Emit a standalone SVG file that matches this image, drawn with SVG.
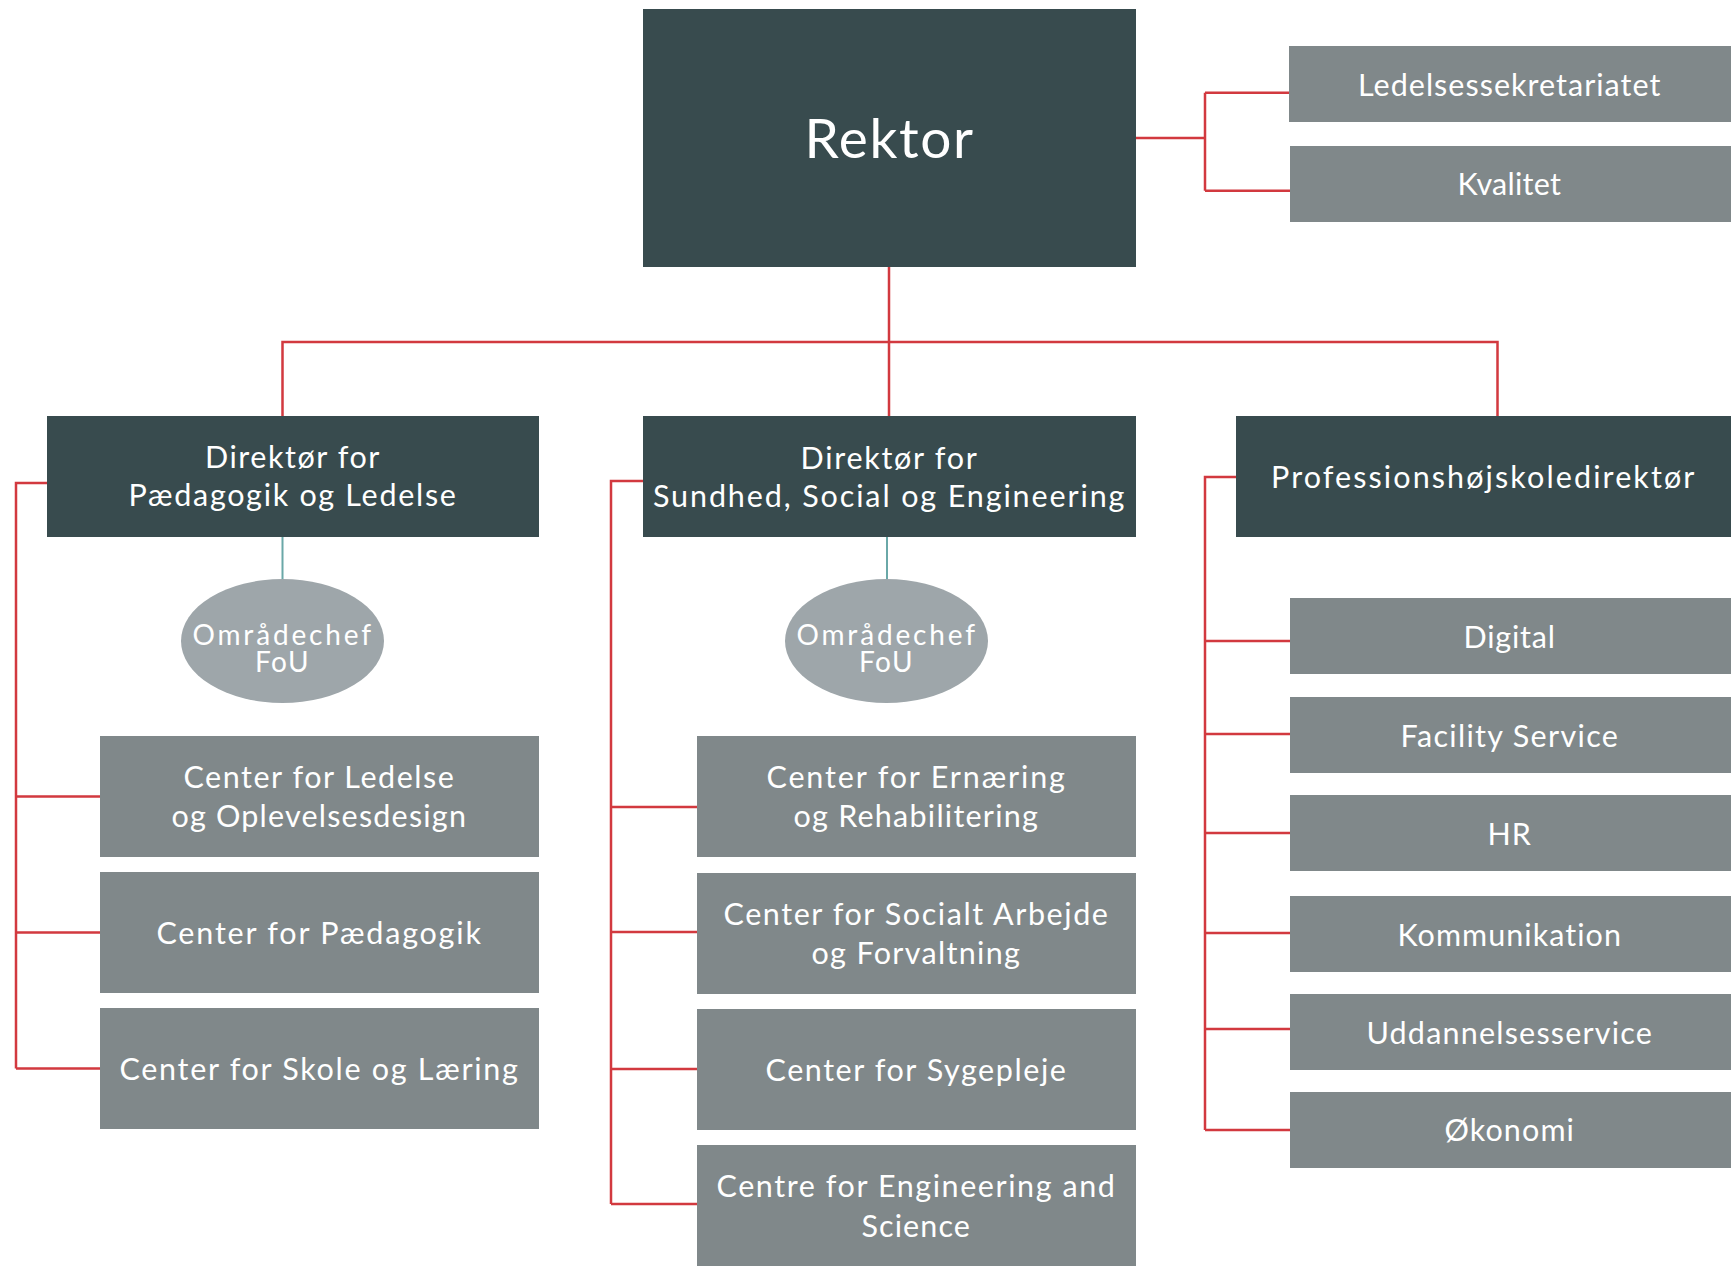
<svg xmlns="http://www.w3.org/2000/svg" width="1731" height="1266" viewBox="0 0 1731 1266">
<style>
.dark{fill:#384b4e}
.gray{fill:#80888a}
.oval{fill:#9ea6aa}
text{font-family:Lato,"Liberation Sans",sans-serif;fill:#ffffff;text-anchor:middle;font-size:30.5px;letter-spacing:1.6px}
.big{font-size:55px;letter-spacing:1.5px}
.ov{font-size:28px;letter-spacing:1.5px}
.red{stroke:#d2393f;stroke-width:2.5;fill:none}
.teal{stroke:#6aa8a8;stroke-width:2;fill:none}
</style>
<rect width="1731" height="1266" fill="#ffffff"/>
<g id="connectors">
<path class="red" d="M1136 138H1205M1205 92.7V190.7M1205 92.7H1290M1205 190.7H1290"/>
<path class="red" d="M889 267V416M282.5 416V342H1497.5V416"/>
<path class="red" d="M47 483H16V1068.5M16 796.5H100M16 932.5H100M16 1068.5H100"/>
<path class="red" d="M643 481H611V1204M611 807H697M611 932H697M611 1069H697M611 1204H697"/>
<path class="red" d="M1236 477H1205V1130M1205 641H1290M1205 734H1290M1205 833H1290M1205 933H1290M1205 1029H1290M1205 1130H1290"/>
<path class="teal" d="M282.5 537V579M887 537V579"/>
</g>
<g id="rektor"><rect class="dark" x="643" y="9" width="493" height="258"/><text class="big" x="889.5" y="158" textLength="170" lengthAdjust="spacing">Rektor</text></g>
<g id="ledelsessekretariatet"><rect class="gray" x="1289" y="46" width="442" height="76"/><text x="1510" y="96" textLength="304" lengthAdjust="spacing">Ledelsessekretariatet</text></g>
<g id="kvalitet"><rect class="gray" x="1290" y="146" width="441" height="76"/><text x="1510" y="195" textLength="105" lengthAdjust="spacing">Kvalitet</text></g>
<g id="dir-paed"><rect class="dark" x="47" y="416" width="492" height="121"/><text x="293" y="468" textLength="176" lengthAdjust="spacing">Direktør for</text><text x="293" y="506" textLength="329" lengthAdjust="spacing">Pædagogik og Ledelse</text></g>
<g id="dir-sundhed"><rect class="dark" x="643" y="416" width="493" height="121"/><text x="889.5" y="469" textLength="178" lengthAdjust="spacing">Direktør for</text><text x="889.5" y="507" textLength="473" lengthAdjust="spacing">Sundhed, Social og Engineering</text></g>
<g id="prof"><rect class="dark" x="1236" y="416" width="495" height="121"/><text x="1483.5" y="488" textLength="425" lengthAdjust="spacing">Professionshøjskoledirektør</text></g>
<g id="fou-1"><ellipse class="oval" cx="282.5" cy="641" rx="101.5" ry="62"/><text class="ov" x="282.5" y="645" textLength="180" lengthAdjust="spacing">Områdechef</text><text class="ov" x="282.5" y="672" textLength="55" lengthAdjust="spacing">FoU</text></g>
<g id="fou-2"><ellipse class="oval" cx="886.5" cy="641" rx="101.5" ry="62"/><text class="ov" x="886.5" y="645" textLength="180" lengthAdjust="spacing">Områdechef</text><text class="ov" x="886.5" y="672" textLength="55" lengthAdjust="spacing">FoU</text></g>
<g id="c-ledelse"><rect class="gray" x="100" y="736" width="439" height="121"/><text x="319.5" y="788" textLength="272" lengthAdjust="spacing">Center for Ledelse</text><text x="319.5" y="827" textLength="296" lengthAdjust="spacing">og Oplevelsesdesign</text></g>
<g id="c-paed"><rect class="gray" x="100" y="872" width="439" height="121"/><text x="319.5" y="944" textLength="326" lengthAdjust="spacing">Center for Pædagogik</text></g>
<g id="c-skole"><rect class="gray" x="100" y="1008" width="439" height="121"/><text x="319.5" y="1080" textLength="400" lengthAdjust="spacing">Center for Skole og Læring</text></g>
<g id="c-ernaering"><rect class="gray" x="697" y="736" width="439" height="121"/><text x="916.5" y="788" textLength="300" lengthAdjust="spacing">Center for Ernæring</text><text x="916.5" y="827" textLength="246" lengthAdjust="spacing">og Rehabilitering</text></g>
<g id="c-socialt"><rect class="gray" x="697" y="873" width="439" height="121"/><text x="916.5" y="925" textLength="386" lengthAdjust="spacing">Center for Socialt Arbejde</text><text x="916.5" y="964" textLength="210" lengthAdjust="spacing">og Forvaltning</text></g>
<g id="c-sygepleje"><rect class="gray" x="697" y="1009" width="439" height="121"/><text x="916.5" y="1081" textLength="302" lengthAdjust="spacing">Center for Sygepleje</text></g>
<g id="c-engineering"><rect class="gray" x="697" y="1145" width="439" height="121"/><text x="916.5" y="1197" textLength="400" lengthAdjust="spacing">Centre for Engineering and</text><text x="916.5" y="1237" textLength="110" lengthAdjust="spacing">Science</text></g>
<g id="digital"><rect class="gray" x="1290" y="598" width="441" height="76"/><text x="1510" y="648" textLength="93" lengthAdjust="spacing">Digital</text></g>
<g id="facility"><rect class="gray" x="1290" y="697" width="441" height="76"/><text x="1510" y="747" textLength="219" lengthAdjust="spacing">Facility Service</text></g>
<g id="hr"><rect class="gray" x="1290" y="795" width="441" height="76"/><text x="1510" y="845" textLength="45" lengthAdjust="spacing">HR</text></g>
<g id="kommunikation"><rect class="gray" x="1290" y="896" width="441" height="76"/><text x="1510" y="946" textLength="225" lengthAdjust="spacing">Kommunikation</text></g>
<g id="uddannelse"><rect class="gray" x="1290" y="994" width="441" height="76"/><text x="1510" y="1044" textLength="287" lengthAdjust="spacing">Uddannelsesservice</text></g>
<g id="oekonomi"><rect class="gray" x="1290" y="1092" width="441" height="76"/><text x="1510" y="1141" textLength="131" lengthAdjust="spacing">Økonomi</text></g>
</svg>
